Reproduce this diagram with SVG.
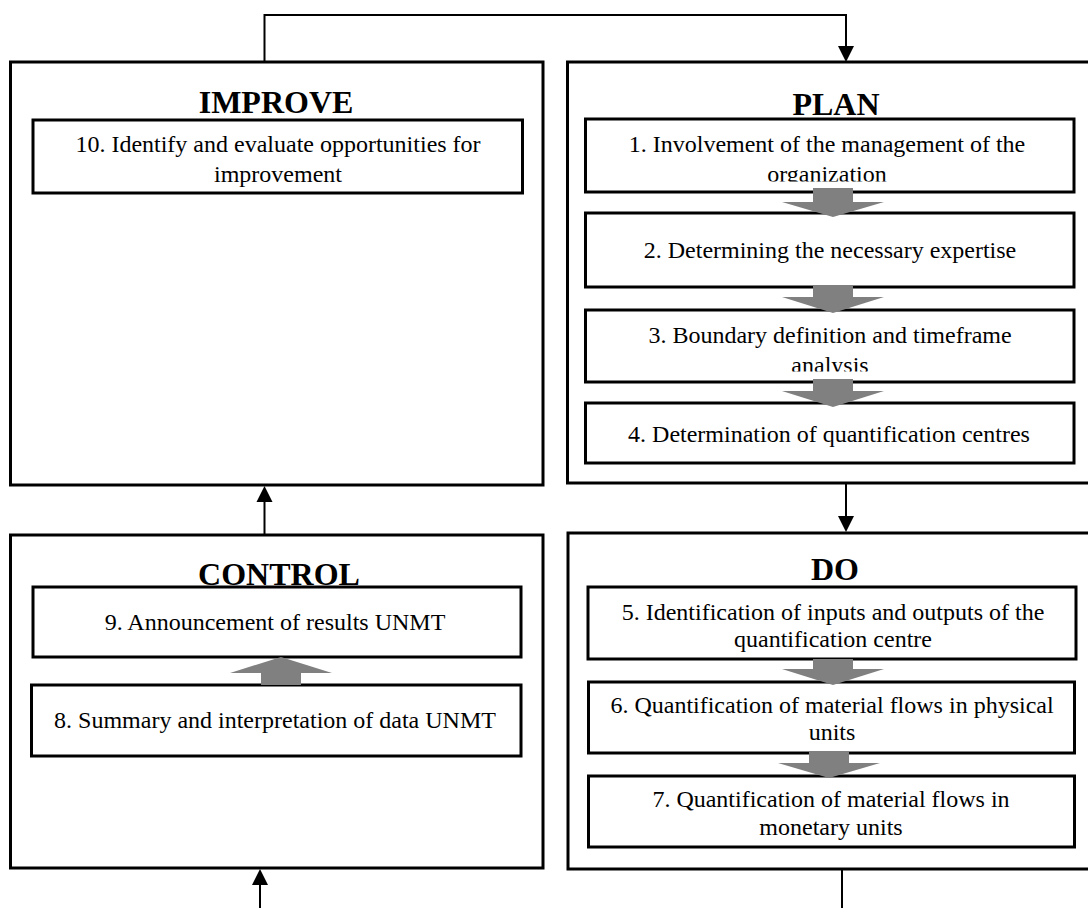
<svg xmlns="http://www.w3.org/2000/svg" width="1088" height="908" viewBox="0 0 1088 908">
  <style>
    .phase { fill: #ffffff; stroke: #000000; stroke-width: 3; }
    .step { fill: #ffffff; stroke: #000000; stroke-width: 3; }
    .title { font-family: "Liberation Serif", "Times New Roman", serif; font-size: 32px; font-weight: bold; fill: #000000; text-anchor: middle; }
    .label { font-family: "Liberation Serif", "Times New Roman", serif; font-size: 24px; fill: #000000; text-anchor: middle; }
    .flow { fill: #808080; stroke: none; }
    .link { fill: none; stroke: #000000; stroke-width: 2; }
    .head { fill: #000000; stroke: none; }
  </style>
  <defs>
    <clipPath id="clip-s1" clipPathUnits="userSpaceOnUse">
      <rect x="587" y="120" width="486" height="61.5"/>
    </clipPath>
    <clipPath id="clip-s3" clipPathUnits="userSpaceOnUse">
      <rect x="587" y="311" width="486" height="60.5"/>
    </clipPath>
  </defs>

  <rect width="1088" height="908" fill="#ffffff"/>

  <!-- IMPROVE phase -->
  <g id="improve">
    <rect class="phase" x="10.5" y="62" width="532.5" height="423"/>
    <text class="title" x="276" y="113">IMPROVE</text>
    <g id="step10">
      <rect class="step" x="33" y="120" width="489.5" height="73"/>
      <text class="label" x="278" y="152">10. Identify and evaluate opportunities for</text>
      <text class="label" x="278" y="182">improvement</text>
    </g>
  </g>

  <!-- PLAN phase -->
  <g id="plan">
    <rect class="phase" x="567.5" y="62" width="540" height="421"/>
    <text class="title" x="836" y="115">PLAN</text>
    <g id="step1">
      <rect class="step" x="585.5" y="119" width="488.5" height="73"/>
      <g clip-path="url(#clip-s1)">
        <text class="label" x="827" y="152">1. Involvement of the management of the</text>
        <text class="label" x="827" y="182">organization</text>
      </g>
    </g>
    <g id="step2">
      <rect class="step" x="585.5" y="213" width="488.5" height="74"/>
      <text class="label" x="830" y="258">2. Determining the necessary expertise</text>
    </g>
    <g id="step3">
      <rect class="step" x="585.5" y="310" width="488.5" height="72"/>
      <g clip-path="url(#clip-s3)">
        <text class="label" x="830" y="343">3. Boundary definition and timeframe</text>
        <text class="label" x="830" y="373">analysis</text>
      </g>
    </g>
    <g id="step4">
      <rect class="step" x="585.5" y="403" width="488.5" height="60"/>
      <text class="label" x="829" y="442">4. Determination of quantification centres</text>
    </g>
    <polygon class="flow" points="813,188 853,188 853,202 884,202 833,217 782,202 813,202"/>
    <polygon class="flow" points="813,286 853,286 853,297 884,297 833,313 782,297 813,297"/>
    <polygon class="flow" points="813,379 853,379 853,391 884,391 833,407 782,391 813,391"/>
  </g>

  <!-- DO phase -->
  <g id="do">
    <rect class="phase" x="568" y="533" width="540" height="336"/>
    <text class="title" x="835" y="580">DO</text>
    <g id="step5">
      <rect class="step" x="588" y="587" width="488" height="72"/>
      <text class="label" x="833" y="620">5. Identification of inputs and outputs of the</text>
      <text class="label" x="833" y="647">quantification centre</text>
    </g>
    <g id="step6">
      <rect class="step" x="588.5" y="682" width="486" height="71"/>
      <text class="label" x="832" y="713">6. Quantification of material flows in physical</text>
      <text class="label" x="832" y="740">units</text>
    </g>
    <g id="step7">
      <rect class="step" x="588.5" y="776" width="486" height="71"/>
      <text class="label" x="831" y="807">7. Quantification of material flows in</text>
      <text class="label" x="831" y="835">monetary units</text>
    </g>
    <polygon class="flow" points="813,659 853,659 853,669 884,669 833,685 782,669 813,669"/>
    <polygon class="flow" points="809,752 849,752 849,763 880,763 829,778 778,763 809,763"/>
  </g>

  <!-- CONTROL phase -->
  <g id="control">
    <rect class="phase" x="10.5" y="535" width="532.5" height="333"/>
    <text class="title" x="279" y="585">CONTROL</text>
    <g id="step9">
      <rect class="step" x="33" y="587" width="488" height="70"/>
      <text class="label" x="275" y="630">9. Announcement of results UNMT</text>
    </g>
    <g id="step8">
      <rect class="step" x="31.5" y="685" width="489.5" height="71"/>
      <text class="label" x="275" y="728">8. Summary and interpretation of data UNMT</text>
    </g>
    <polygon class="flow" points="261,685 301,685 301,673 332,673 281,657 230,673 261,673"/>
  </g>

  <!-- cycle connectors between the phases -->
  <g id="connectors">
    <polyline class="link" points="264.5,62 264.5,15 846,15 846,48"/>
    <polygon class="head" points="838,46 854,46 846,62"/>
    <line class="link" x1="846" y1="483" x2="846" y2="517"/>
    <polygon class="head" points="838,516 854,516 846,532"/>
    <line class="link" x1="842" y1="869" x2="842" y2="908"/>
    <line class="link" x1="264.5" y1="535" x2="264.5" y2="500"/>
    <polygon class="head" points="256.5,502 272.5,502 264.5,486"/>
    <line class="link" x1="260" y1="908" x2="260" y2="883"/>
    <polygon class="head" points="252,885 268,885 260,869"/>
  </g>
</svg>
